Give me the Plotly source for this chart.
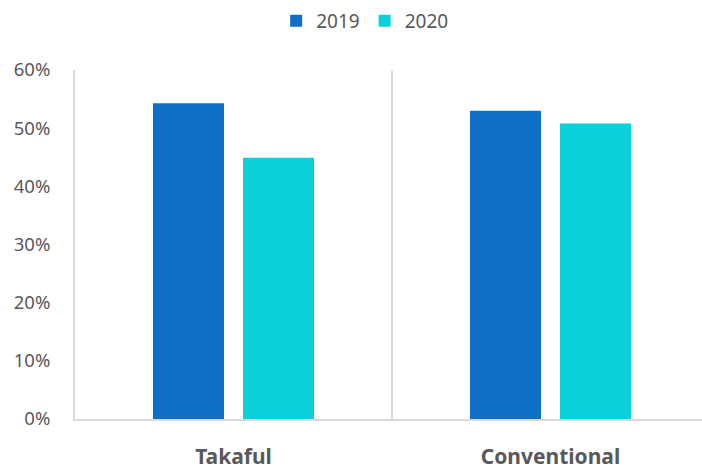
import plotly.graph_objects as go

categories = ["Takaful", "Conventional"]
years = ["2019", "2020"]
values_2019 = [0.543, 0.530]
values_2020 = [0.449, 0.508]
colors = ["#0F6FC6", "#0BD0D9"]
y_ticks = [0, 0.1, 0.2, 0.3, 0.4, 0.5, 0.6]
y_tick_labels = ["0%", "10%", "20%", "30%", "40%", "50%", "60%"]

font_family = "Noto Sans, Open Sans, sans-serif"
text_color = "#595959"
line_color = "#D9D9D9"

fig = go.Figure()
for name, vals, col in zip(years, [values_2019, values_2020], colors):
    fig.add_trace(go.Bar(
        name=name, x=categories, y=vals,
        marker=dict(color=col, line=dict(width=0)),
    ))

fig.update_layout(
    width=702, height=470,
    margin=dict(l=75, r=0, t=70, b=51),
    paper_bgcolor="white", plot_bgcolor="white",
    barmode="group", bargap=0.432, bargroupgap=0.211,
    font=dict(family=font_family, color=text_color, size=18),
    legend=dict(orientation="h", x=0.462, xanchor="center",
                y=1.195, yanchor="top",
                font=dict(size=19, color=text_color),
                itemwidth=30, traceorder="normal"),
    xaxis=dict(
        range=[-0.5, 1.478],
        showline=True, linecolor=line_color, linewidth=2,
        tickson="boundaries", ticks="", showgrid=True,
        gridcolor=line_color, gridwidth=2,
        tickfont=dict(size=21, color=text_color, family="Noto Sans, sans-serif", weight="bold"),
        ticklabelstandoff=18,
    ),
    yaxis=dict(
        range=[0, 0.6], tickvals=y_ticks, ticktext=y_tick_labels,
        showgrid=False, zeroline=False,
        showline=True, linecolor=line_color, linewidth=2,
        ticks="", ticklabelstandoff=19,
        tickfont=dict(size=18.5, color=text_color),
    ),
)

fig.write_html("out.html")
